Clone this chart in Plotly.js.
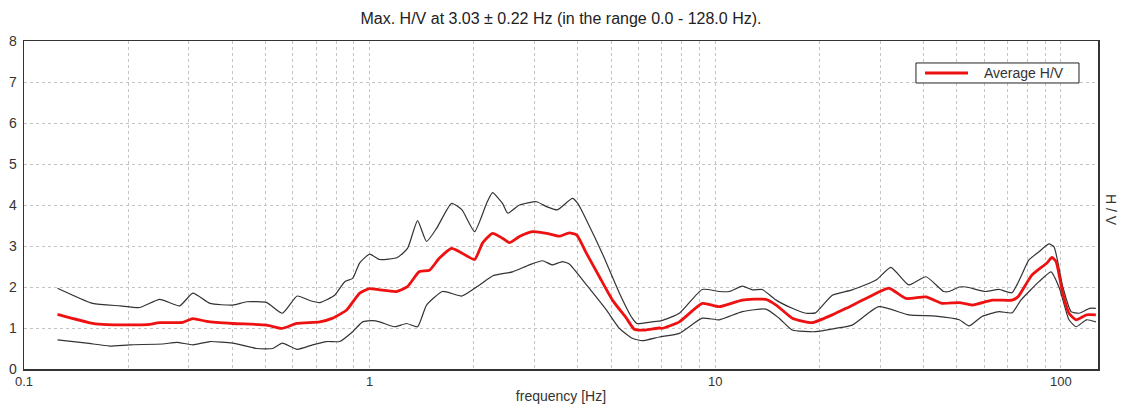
<!DOCTYPE html>
<html>
<head>
<meta charset="utf-8">
<script src="https://cdn.plot.ly/plotly-3.0.1.min.js"></script>
<style>html,body{margin:0;padding:0;background:#fff;}#chart{width:1126px;height:408px;}</style>
</head>
<body>
<div id="chart"></div>
<script>
// ---- data ----
const titleText = "Max. H/V at 3.03 ± 0.22 Hz (in the range 0.0 - 128.0 Hz).";
const xTitle = "frequency [Hz]";
const yTitle = "H / V";
const legendName = "Average H/V";

const freqAvg = [0.125,0.158,0.174,0.227,0.247,0.288,0.308,0.338,0.402,0.504,0.557,0.615,0.717,0.782,0.858,0.936,1.0,1.069,
  1.195,1.287,1.39,1.49,1.59,1.726,1.82,2.012,2.121,2.267,2.423,2.539,2.713,2.96,3.25,3.54,3.78,3.97,4.24,4.62,5.04,5.53,5.83,6.27,6.89,
  7.0,7.87,9.17,10.27,11.97,14.0,15.0,16.7,19.07,21.8,23.9,27.9,31.8,35.6,40.7,45.3,50.8,55.4,63.3,72.2,75.1,82.4,90.9,94.2,96.8,101.2,105.5,110.6,118.6,126.2];
const avgHV = [1.33,1.11,1.08,1.08,1.13,1.14,1.23,1.16,1.11,1.07,0.99,1.11,1.15,1.24,1.44,1.85,1.96,1.93,
  1.89,2.01,2.37,2.41,2.70,2.94,2.86,2.67,3.07,3.31,3.19,3.08,3.23,3.35,3.31,3.24,3.32,3.27,2.82,2.25,1.68,1.24,0.97,0.95,1.0,
  0.99,1.15,1.60,1.52,1.68,1.70,1.56,1.24,1.13,1.32,1.48,1.76,1.97,1.72,1.76,1.60,1.62,1.56,1.68,1.68,1.76,2.29,2.58,2.72,2.62,1.85,1.36,1.20,1.32,1.32];

const freqUp = [0.125,0.158,0.19,0.216,0.247,0.282,0.308,0.345,0.402,0.441,0.504,0.559,0.617,0.671,0.717,0.792,0.847,0.893,0.936,1.0,1.069,
  1.202,1.287,1.376,1.461,1.562,1.726,1.85,2.012,2.18,2.267,2.423,2.51,2.713,3.04,3.25,3.49,3.86,4.0,4.24,4.71,5.28,5.75,5.93,6.54,7.0,
  7.87,9.17,10.27,10.97,11.97,12.82,13.67,15.0,16.7,18.3,19.5,21.8,24.9,29.2,32.2,36.3,40.7,45.8,47.5,50.8,53.2,60.6,66.2,72.2,80.8,86.4,92.3,95.5,101.2,107.0,112.9,121.1,126.2];
const upperHV = [1.97,1.60,1.54,1.50,1.70,1.54,1.85,1.60,1.56,1.64,1.62,1.36,1.78,1.67,1.62,1.80,2.13,2.21,2.59,2.80,2.67,
  2.72,2.94,3.62,3.11,3.43,4.04,3.88,3.35,4.04,4.30,4.04,3.80,4.00,4.08,3.96,3.88,4.16,4.04,3.63,2.82,1.85,1.24,1.11,1.15,1.18,
  1.36,1.94,1.89,1.89,2.02,1.93,1.94,1.68,1.48,1.36,1.37,1.80,1.93,2.17,2.48,2.05,2.25,1.89,1.89,2.0,2.0,1.89,1.94,1.86,2.66,2.86,3.05,2.98,2.01,1.40,1.36,1.48,1.48];

const freqLow = [0.125,0.152,0.177,0.202,0.252,0.277,0.308,0.345,0.402,0.471,0.524,0.559,0.617,0.684,0.751,0.819,0.893,0.954,1.02,1.069,
  1.181,1.279,1.376,1.461,1.625,1.85,2.08,2.267,2.59,2.90,3.162,3.38,3.61,3.78,4.24,4.84,5.28,5.75,6.15,6.89,
  7.87,9.17,10.27,11.97,14.0,15.3,16.7,19.5,22.3,24.9,29.7,36.3,43.4,50.8,54.2,59.1,66.2,72.2,76.6,86.4,93.6,99.0,105.5,110.6,118.6,126.2];
const lowerHV = [0.71,0.63,0.56,0.59,0.61,0.65,0.59,0.67,0.63,0.50,0.50,0.63,0.48,0.59,0.67,0.67,0.91,1.15,1.18,1.15,
  1.03,1.11,1.03,1.56,1.89,1.78,2.05,2.27,2.37,2.54,2.64,2.54,2.62,2.56,2.05,1.44,0.99,0.75,0.69,0.78,
  0.87,1.24,1.20,1.40,1.46,1.24,0.95,0.91,0.99,1.07,1.52,1.32,1.29,1.20,1.05,1.28,1.40,1.37,1.68,2.13,2.37,1.97,1.20,1.03,1.20,1.15];

const xTickVals = [0.1,0.2,0.3,0.4,0.5,0.6,0.7,0.8,0.9,1,2,3,4,5,6,7,8,9,10,20,30,40,50,60,70,80,90,100];
const xTickText = ["0.1","","","","","","","","","1","","","","","","","","","10","","","","","","","","","100"];
const yTickVals = [0,1,2,3,4,5,6,7,8];

// ---- chart ----
const font = "Liberation Sans, Arial, sans-serif";
const avgColor = '#ee1111';
const bandColor = '#333333';
const traces = [
  {x: freqUp, y: upperHV, mode: 'lines', line: {color: bandColor, width: 1.2, shape: 'spline', smoothing: 0.5}, showlegend: false, hoverinfo: 'skip'},
  {x: freqLow, y: lowerHV, mode: 'lines', line: {color: bandColor, width: 1.2, shape: 'spline', smoothing: 0.5}, showlegend: false, hoverinfo: 'skip'},
  {x: freqAvg, y: avgHV, mode: 'lines', name: legendName, line: {color: avgColor, width: 2.8, shape: 'spline', smoothing: 0.5}, showlegend: false}
];
// legend box (drawn in paper coordinates)
const lg = {x0: 0.8305, x1: 0.9823, y0: 0.872, y1: 0.933, lineX0: 0.8389, lineX1: 0.879, textX: 0.892};
const lgMid = (lg.y0 + lg.y1) / 2;
const layout = {
  width: 1126, height: 408,
  margin: {l: 24, r: 28, t: 41, b: 39, pad: 0},
  paper_bgcolor: '#ffffff', plot_bgcolor: '#ffffff',
  font: {family: font, size: 13, color: '#222'},
  showlegend: false,
  title: {text: titleText, x: 0.5, xref: 'paper', xanchor: 'center', y: 0.955, yref: 'container', yanchor: 'middle', font: {family: font, size: 16, color: '#222'}},
  xaxis: {
    type: 'log', range: [-1, Math.log10(128)],
    tickmode: 'array', tickvals: xTickVals, ticktext: xTickText,
    showgrid: true, gridcolor: '#c4c4c4', griddash: 'dot', gridwidth: 1,
    showline: true, linecolor: '#333', linewidth: 1.5, mirror: true,
    ticks: '', zeroline: false,
    tickfont: {family: font, size: 13, color: '#333'},
    title: {text: xTitle, font: {family: font, size: 14, color: '#333'}, standoff: 3}
  },
  yaxis: {
    range: [0, 8], tickmode: 'array', tickvals: yTickVals,
    showgrid: true, gridcolor: '#c4c4c4', griddash: 'dot', gridwidth: 1,
    showline: true, linecolor: '#333', linewidth: 1.5, mirror: true,
    ticks: '', zeroline: false, ticklabelstandoff: 3,
    tickfont: {family: font, size: 14, color: '#333'}
  },
  shapes: [
    {type: 'rect', xref: 'paper', yref: 'paper', x0: lg.x0, x1: lg.x1, y0: lg.y0, y1: lg.y1,
      line: {color: '#222', width: 1}, fillcolor: '#ffffff', layer: 'above'},
    {type: 'line', xref: 'paper', yref: 'paper', x0: lg.lineX0, x1: lg.lineX1, y0: lgMid, y1: lgMid,
      line: {color: avgColor, width: 3}, layer: 'above'}
  ],
  annotations: [
    {text: legendName, xref: 'paper', yref: 'paper', x: lg.textX, y: lgMid, xanchor: 'left', yanchor: 'middle',
      showarrow: false, font: {family: font, size: 14, color: '#333'}},
    {text: yTitle, xref: 'paper', yref: 'paper', x: 1, y: 0.485, xshift: 13, xanchor: 'center', yanchor: 'middle',
      showarrow: false, textangle: 90, font: {family: font, size: 14, color: '#333'}}
  ]
};
Plotly.newPlot('chart', traces, layout, {staticPlot: true, displayModeBar: false});
</script>
</body>
</html>
